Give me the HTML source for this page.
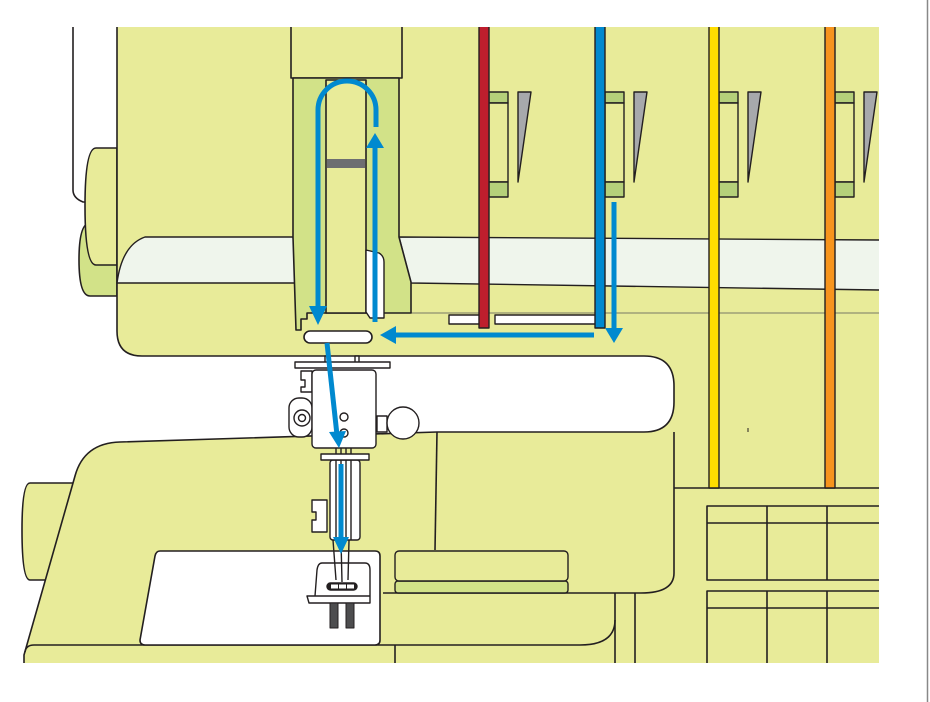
<!DOCTYPE html>
<html><head><meta charset="utf-8"><style>html,body{margin:0;padding:0;background:#fff}svg{display:block}</style></head>
<body>
<svg width="930" height="702" viewBox="0 0 930 702" xmlns="http://www.w3.org/2000/svg" stroke-linejoin="round">
<!-- back white panel -->
<path d="M73,27 L73,190 Q73,198 83,202 L117,202" fill="#fff" stroke="#231f20" stroke-width="1.6"/>
<g stroke="#231f20" stroke-width="1.6">
<path d="M117,223 L90,223 Q79,223 79,260 Q79,296 90,296 L117,296 Z" fill="#d2e288"/>
<path d="M117,148 L96,148 Q85,148 85,206 Q85,265 96,265 L117,265 Z" fill="#e8eb99"/>
<path d="M75,483 L30,483 Q22,483 22,530 Q22,580 30,580 L75,580 Z" fill="#e8eb99"/>
</g>
<!-- fills -->
<path d="M24,663 L24,655 L75,476 Q84,443 120,442 L437,432 L644,432 Q674,432 674,402 L674,356 L879,356 L879,663 Z" fill="#e8eb99"/>
<path d="M117,27 H879 V488 H674 V386 Q674,356 644,356 H142 Q117,356 117,331 Z" fill="#e8eb99"/>
<!-- outlines -->
<g stroke="#231f20" stroke-width="1.6" fill="none">
<path d="M117,27 V331 Q117,356 142,356 H644 Q674,356 674,386 V402 Q674,432 644,432 L437,432 L120,442 Q84,443 75,476 L24,655 L24,663"/>
<line x1="674" y1="488" x2="879" y2="488"/>
</g>
<!-- stripe -->
<path d="M117,283 Q122,245 145,237 L293,237 L298,283 Z" fill="#eff5ec" stroke="#231f20" stroke-width="1.4"/>
<path d="M879,240 L399,237 L411,283 L879,290" fill="#eff5ec" stroke="#231f20" stroke-width="1.4"/>
<line x1="411" y1="313" x2="879" y2="313" stroke="#555" stroke-width="0.8"/>
<!-- column -->
<g stroke="#231f20" stroke-width="1.6">
<rect x="291" y="27" width="111" height="51" fill="#e8eb99" stroke="none"/>
<path d="M291,27 V78 H402 V27" fill="none"/>
<path d="M293,78 L399,78 L399,237 L411,282 L411,313 L307,313 L307,319 L301,319 L301,330 L296,330 L293,237 Z" fill="#d2e288"/>
<rect x="326" y="80" width="40" height="233" fill="#e8eb99"/>
</g>
<rect x="326.8" y="159" width="38.4" height="9" fill="#6d6e71"/>
<path d="M366,250 L379,253 Q384,256 384,262 L384,318 L370,318 L366,312 Z" fill="#fff" stroke="#231f20" stroke-width="1.4"/>
<!-- thread stands -->
<g stroke="#231f20" stroke-width="1.4">
<g id="g1">
<rect x="489" y="92" width="19" height="11" fill="#b5d07a"/>
<rect x="489" y="103" width="19" height="79" fill="#e8eb99"/>
<rect x="489" y="182" width="19" height="15" fill="#b5d07a"/>
<path d="M518,92 L531,92 L518,182 Z" fill="#a7a9ac"/>
</g>
<use href="#g1" x="116"/>
<use href="#g1" x="230"/>
<use href="#g1" x="346"/>
<rect x="449" y="315" width="31" height="9" fill="#fff"/>
<rect x="495" y="315" width="101" height="9" fill="#fff"/>
<path d="M479,27 V328 H489 V27" fill="#be1e2d"/>
<path d="M595,27 V328 H605 V27" fill="#0089cf"/>
<path d="M709,27 V488 H719 V27" fill="#ffdd00"/>
<path d="M825,27 V488 H835 V27" fill="#f7941d"/>
</g>
<!-- lower right details -->
<g stroke="#231f20" stroke-width="1.6" fill="none">
<path d="M879,506 H707 V580 H879"/>
<line x1="707" y1="523" x2="879" y2="523"/>
<line x1="767" y1="506" x2="767" y2="580"/>
<line x1="827" y1="506" x2="827" y2="580"/>
<path d="M879,591 H707 V663"/>
<line x1="707" y1="608" x2="879" y2="608"/>
<line x1="767" y1="591" x2="767" y2="663"/>
<line x1="827" y1="591" x2="827" y2="663"/>
<path d="M674,432 V573 Q674,593 641,593 H383"/>
<path d="M615,593 V620 Q615,645 580,645 H34 Q26,645 25,652"/>
<line x1="615" y1="620" x2="615" y2="663"/>
<line x1="635" y1="593" x2="635" y2="663"/>
<line x1="395" y1="645" x2="395" y2="663"/>
<line x1="437" y1="432" x2="435" y2="550"/>
<line x1="748" y1="428" x2="748" y2="432" stroke-width="1"/>
</g>
<!-- needle plate -->
<path d="M160,551 L375,551 Q380,551 380,556 L380,640 Q380,645 375,645 L145,645 Q140,645 140,640 L155,556 Q156,551 160,551 Z" fill="#fff" stroke="#231f20" stroke-width="1.6"/>
<rect x="395" y="581" width="173" height="12" rx="3" fill="#d2e288" stroke="#231f20" stroke-width="1.4"/>
<rect x="395" y="551" width="173" height="30" rx="4" fill="#e8eb99" stroke="#231f20" stroke-width="1.4"/>
<!-- needle assembly -->
<g stroke="#231f20" stroke-width="1.4" fill="#fff">
<rect x="325" y="356" width="3" height="7"/>
<rect x="355" y="356" width="4" height="7"/>
<rect x="295" y="362" width="95" height="6"/>
<path d="M301,371 H312 V392 H301 V387 H305 V380 H301 Z"/>
<rect x="289" y="398" width="23" height="39" rx="10"/>
<circle cx="302" cy="418" r="8"/>
<circle cx="302" cy="418" r="3.5"/>
<rect x="377" y="416" width="10" height="16"/>
<circle cx="403" cy="423" r="16"/>
<rect x="312" y="370" width="64" height="78" rx="4"/>
<circle cx="344" cy="417" r="4"/>
<circle cx="344" cy="433" r="4"/>
<rect x="330" y="460" width="30" height="80" rx="3"/>
<line x1="336" y1="448" x2="336" y2="540"/>
<line x1="341" y1="448" x2="341" y2="540"/>
<line x1="346" y1="448" x2="346" y2="540"/>
<line x1="351" y1="448" x2="351" y2="540"/>
<rect x="321" y="454" width="48" height="6"/>
<path d="M312,500 H327 V532 H312 V520 H316 V512 H312 Z"/>
<path d="M322,563 H365 Q370,563 370,570 L370,596 L307,596 L309,603 L370,603 L370,596 L315,596 L317,570 Q318,563 322,563 Z"/>
<path d="M333,540 L336,580 M349,540 L348,580 M341,540 L342,582" fill="none"/>
<rect x="327" y="583" width="30" height="7" rx="3.5" fill="#231f20"/>
</g>
<rect x="331" y="584.5" width="7" height="4" fill="#fff"/>
<rect x="339" y="584.5" width="7" height="4" fill="#fff"/>
<rect x="347" y="584.5" width="7" height="4" fill="#fff"/>
<rect x="330" y="603" width="8" height="25" fill="#4d4d4f" stroke="#231f20" stroke-width="1"/>
<rect x="346" y="603" width="8" height="25" fill="#4d4d4f" stroke="#231f20" stroke-width="1"/>
<rect x="304" y="331" width="68" height="12" rx="6" fill="#fff" stroke="#231f20" stroke-width="1.6"/>
<!-- blue arrows -->
<g fill="none" stroke="#0089cf" stroke-width="5">
<path d="M318,310 L318,110 A29,29 0 0 1 376,110 L376,127"/>
<path d="M375,322 L375,145"/>
<path d="M594,335 L395,335"/>
<path d="M614,202 L614,330"/>
<path d="M327,343 L337,435"/>
<path d="M341,464 L341,540"/>
</g>
<g fill="#0089cf">
<path d="M309,306 L327,306 L318,325 Z"/>
<path d="M366,148 L384,148 L375,133 Z"/>
<path d="M396,326 L396,344 L380,335 Z"/>
<path d="M605,328 L623,328 L614,343 Z"/>
<path d="M329,432 L346,431 L339,448 Z"/>
<path d="M333,537 L349,537 L341,554 Z"/>
</g>
<line x1="927.5" y1="0" x2="927.5" y2="702" stroke="#888" stroke-width="1.5"/>
</svg>
</body></html>
